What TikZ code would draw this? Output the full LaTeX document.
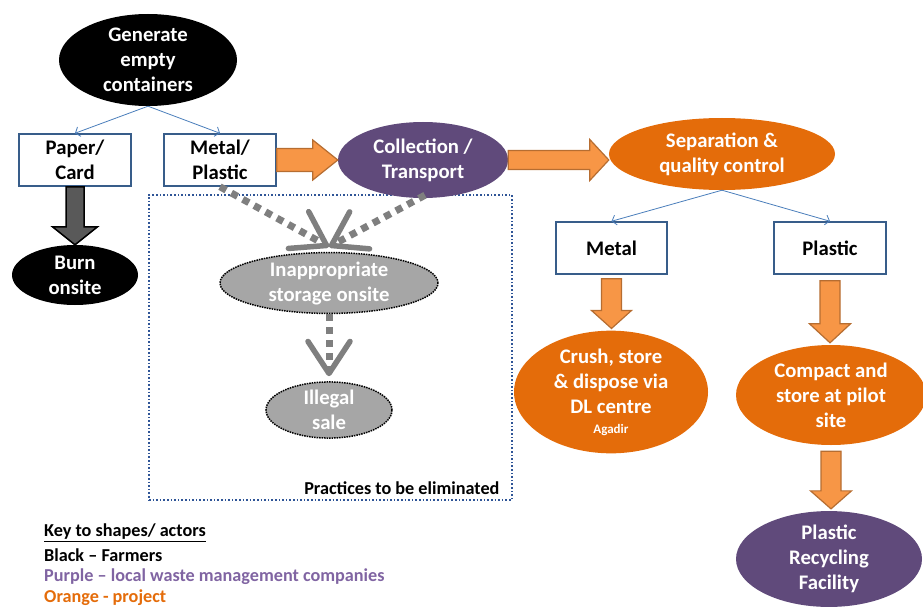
\documentclass[tikz,border=0pt]{standalone}
\usepackage{fontspec}
\setmainfont{Carlito}
\usetikzlibrary{shapes.geometric,arrows.meta,calc}
\definecolor{orgE}{HTML}{E46C0A}
\definecolor{orgA}{HTML}{F79646}
\definecolor{orgB}{HTML}{B66D31}
\definecolor{purp}{HTML}{604A7B}
\definecolor{purpL}{HTML}{8064A2}
\definecolor{boxb}{HTML}{385D8A}
\definecolor{lineb}{HTML}{4A7EBB}
\definecolor{dotb}{HTML}{2F5597}
\definecolor{grayF}{HTML}{A6A6A6}
\definecolor{grayA}{HTML}{7F7F7F}
\definecolor{grayD}{HTML}{595959}
\tikzset{
  downblock/.style n args={3}{to path={let \p1=(\tikztostart),\p2=(\tikztotarget) in
    (\x1-#1,\y1) -- (\x1+#1,\y1) -- (\x1+#1,\y2+#3) -- (\x1+#2,\y2+#3) -- (\x1,\y2) -- (\x1-#2,\y2+#3) -- (\x1-#1,\y2+#3) -- cycle}},
  rightblock/.style n args={3}{to path={let \p1=(\tikztostart),\p2=(\tikztotarget) in
    (\x1,\y1+#1) -- (\x2-#3,\y1+#1) -- (\x2-#3,\y1+#2) -- (\x2,\y1) -- (\x2-#3,\y1-#2) -- (\x2-#3,\y1-#1) -- (\x1,\y1-#1) -- cycle}},
}
\begin{document}
\begin{tikzpicture}[x=1pt,y=-1pt,
  font=\fontsize{20.7}{25}\selectfont\bfseries,
  ell/.style={ellipse, inner sep=0pt, align=center, text=white},
  blackell/.style={ell, fill=black},
  purpell/.style={ell, fill=purp},
  orgell/.style={ell, fill=orgE},
  grayell/.style={ell, fill=grayF, draw=black, densely dotted, line width=1.5pt},
  catbox/.style={rectangle, draw=boxb, line width=1.5pt, fill=white, minimum height=52pt, align=center, inner sep=0pt},
  thinarr/.style={draw=lineb, line width=0.8pt, -{Straight Barb[length=4pt,width=10pt]}},
  orgblk/.style={fill=orgA, draw=orgB, line width=1.2pt, line join=miter},
  grayblk/.style={fill=grayD, draw=black, line width=1.5pt},
  dasharr/.style={draw=grayA, line width=7pt, dash pattern=on 7pt off 6pt,
    -{Straight Barb[length=32pt,width=42pt,line width=5.5pt,round]}},
]
\useasboundingbox (0,0) rectangle (923,607);

% practices box
\node[draw=dotb, dotted, line width=1.6pt, minimum width=363pt, minimum height=305pt, inner sep=0pt] (pbox) at (330.5,347.5) {};
\node[anchor=east, font=\fontsize{18.2}{21}\selectfont\bfseries] (ptxt) at (503,488) {Practices to be eliminated};

% nodes
\node[blackell, minimum width=178pt, minimum height=92pt] (gen) at (148,60) {Generate\\empty\\containers};
\node[catbox, minimum width=112pt] (paper) at (75,160) {Paper/\\Card};
\node[catbox, minimum width=112pt] (mp) at (220,160) {Metal/\\Plastic};
\node[blackell, minimum width=126pt, minimum height=60pt] (burn) at (75,275) {Burn\\onsite};
\node[purpell, minimum width=170pt, minimum height=76pt] (coll) at (423,160) {Collection /\\Transport};
\node[orgell, minimum width=226pt, minimum height=72pt] (sep) at (722,154) {Separation \&\\quality control};
\node[catbox, minimum width=111pt] (metal) at (611.5,248) {Metal};
\node[catbox, minimum width=112pt] (plastic) at (830,248) {Plastic};
\node[orgell, minimum width=194pt, minimum height=100pt] (crush) at (611,392) {Crush, store\\\& dispose via\\DL centre\\[-5pt]{\fontsize{13}{14}\selectfont Agadir}};
\node[orgell, minimum width=190pt, minimum height=100pt] (compact) at (831,395) {Compact and\\store at pilot\\site};
\node[purpell, minimum width=186pt, minimum height=88pt] (recyc) at (829,559) {Plastic\\Recycling\\Facility};
\node[grayell, minimum width=218pt, minimum height=54pt] (inapp) at (329,283) {Inappropriate\\storage onsite};
\node[grayell, minimum width=126pt, minimum height=56pt] (illegal) at (329,410) {Illegal\\sale};

% thin blue arrows
\draw[thinarr] (gen.south) -- (paper.north);
\draw[thinarr] (gen.south) -- (mp.north);
\draw[thinarr] (sep.south) -- (metal.north);
\draw[thinarr] (sep.south) -- (plastic.north);

% block arrows
\draw[grayblk, downblock={9pt}{22.5pt}{18pt}] (paper.south) to (burn.north);
\draw[orgblk, rightblock={11.5pt}{20pt}{25pt}] (mp.east) to (coll.west);
\draw[orgblk, rightblock={9.5pt}{20.5pt}{19pt}] (coll.east) to (sep.west);
\draw[orgblk, downblock={10pt}{20pt}{18pt}] ($(metal.south)+(0,4)$) to ($(crush.north)+(0,-2)$);
\draw[orgblk, downblock={10pt}{20.5pt}{19pt}] ($(plastic.south)+(0,6)$) to ($(compact.north)+(0,-2)$);
\draw[orgblk, downblock={10pt}{20.5pt}{18pt}] ($(compact.south)+(0,6)$) to ($(recyc.north)+(0,-2)$);

% dashed gray arrows
\draw[dasharr] (mp.south) -- ($(inapp.north)+(0,-5)$);
\draw[dasharr] ($(coll.south)+(2,-3)$) -- ($(inapp.north)+(0,-5)$);
\draw[dasharr] (inapp.south) -- ($(illegal.north)+(0,-5)$);

% legend
\begin{scope}[font=\fontsize{18.2}{21}\selectfont\bfseries]
\node[anchor=west, inner sep=0pt] (k1) at (44,533) {\underline{Key to shapes/ actors}};
\node[anchor=west, inner sep=0pt] (k2) at (44,555) {Black -- Farmers};
\node[anchor=west, inner sep=0pt, text=purpL] (k3) at (44,577) {Purple -- local waste management companies};
\node[anchor=west, inner sep=0pt, text=orgE] (k4) at (44,598) {Orange - project};
\end{scope}
\end{tikzpicture}
\end{document}
